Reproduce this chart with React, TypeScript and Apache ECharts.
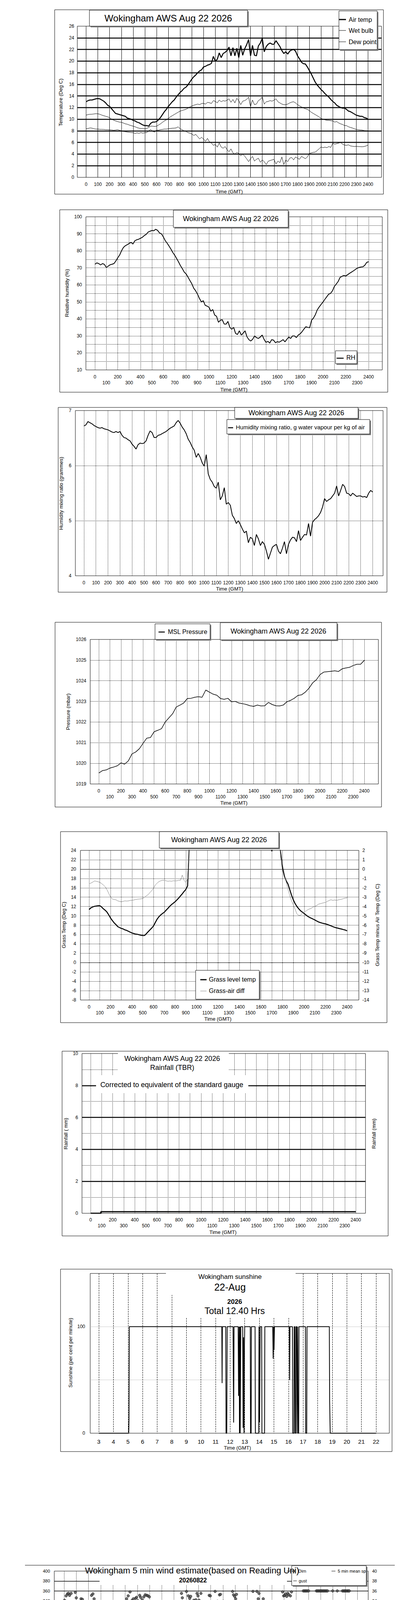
import React, { useEffect, useRef } from "react";
import * as echarts from "echarts";

const FONT = "'Liberation Sans', Arial, Helvetica, sans-serif";

// ---------- tick labels ----------
const X_TICKS = [0, 100, 200, 300, 400, 500, 600, 700, 800, 900, 1000, 1100, 1200, 1300, 1400, 1500, 1600, 1700, 1800, 1900, 2000, 2100, 2200, 2300, 2400];
const SUN_TICKS = [3, 4, 5, 6, 7, 8, 9, 10, 11, 12, 13, 14, 15, 16, 17, 18, 19, 20, 21, 22];

// sample times on the hhmm-style axis (hours * 100)
function sampleTimes(count: number, stepMin: number): number[] {
  const out: number[] = [];
  for (let i = 0; i < count; i++) out.push(Math.round(((i * stepMin) / 60) * 10000) / 100);
  return out;
}
const T10 = sampleTimes(145, 10);
const T20 = sampleTimes(73, 20);

// ---------- chart 1: temperatures (10-min) ----------
const AIR_TEMP = [
  13.0, 13.2, 13.3, 13.3, 13.4, 13.5,
  13.55, 13.5, 13.3, 13.1, 12.8, 12.4,
  12.2, 11.8, 11.4, 11.0, 10.9, 10.8,
  10.7, 10.6, 10.5, 10.2, 10.1, 10.0,
  9.8, 9.7, 9.5, 9.4, 9.2, 9.0,
  8.9, 8.9, 8.8, 9.3, 9.5, 9.5,
  9.6, 9.9, 10.3, 10.8, 11.3, 11.7,
  12.2, 12.6, 13.0, 13.3, 13.8, 14.2,
  14.6, 14.9, 15.3, 15.5, 15.9, 16.4,
  16.9, 17.3, 17.6, 18.0, 18.3, 18.5,
  19.0, 19.1, 19.3, 19.4, 19.6, 20.8,
  20.0, 20.3, 21.4, 20.6, 21.3, 21.5,
  21.8, 22.4, 20.9, 22.3, 20.9, 22.2,
  20.6, 22.7, 21.0, 22.1, 22.8, 23.7,
  20.9, 22.7, 21.0, 20.9, 22.6, 23.1,
  23.9, 21.6, 22.5, 22.9, 23.1, 22.9,
  22.9, 23.5, 23.0, 22.5, 21.8, 21.3,
  21.6, 21.2, 21.7, 21.9, 22.0, 21.7,
  20.9, 20.4, 19.8, 19.55, 19.5, 19.0,
  18.4, 17.8, 17.1, 16.4, 15.9, 15.5,
  15.1, 14.8, 14.4, 14.1, 13.8, 13.4,
  13.05, 12.8, 12.4, 12.2, 12.0, 11.9,
  11.9, 11.7, 11.4, 11.3, 11.1, 10.9,
  10.7, 10.6, 10.5, 10.5, 10.3, 10.2,
  10.0,
];
const WET_BULB = [
  10.7, 10.8, 10.85, 10.86, 10.9, 10.95,
  10.93, 10.85, 10.7, 10.6, 10.5, 10.4,
  10.26, 10.0, 9.85, 9.7, 9.6, 9.5,
  9.47, 9.35, 9.2, 9.14, 9.0, 8.9,
  8.8, 8.7, 8.55, 8.46, 8.4, 8.4,
  8.35, 8.4, 8.6, 8.8, 8.8, 8.75,
  8.8, 9.0, 9.2, 9.47, 9.7, 9.9,
  10.14, 10.4, 10.6, 10.8, 11.0, 11.2,
  11.38, 11.5, 11.6, 11.7, 11.9, 12.1,
  12.27, 12.4, 12.5, 12.6, 12.5, 12.7,
  12.72, 12.6, 12.9, 12.83, 12.7, 13.2,
  13.05, 12.8, 13.3, 13.0, 13.2, 13.1,
  13.28, 13.5, 12.9, 13.4, 12.8, 13.6,
  13.17, 12.5, 13.1, 13.2, 13.4, 13.8,
  12.16, 13.3, 12.5, 12.6, 13.2, 13.4,
  13.84, 12.6, 13.0, 13.05, 13.2, 13.1,
  13.28, 13.5, 13.0, 12.8, 12.6, 12.5,
  12.5, 12.6, 12.8, 12.94, 13.0, 12.8,
  12.5, 12.3, 12.1, 11.94, 11.8, 11.7,
  11.49, 11.2, 11.0, 10.8, 10.6, 10.4,
  10.14, 10.0, 9.9, 9.81, 9.8, 9.75,
  9.7, 9.5, 9.6, 9.36, 9.2, 9.1,
  8.91, 8.9, 8.7, 8.58, 8.5, 8.35,
  8.24, 8.2, 8.15, 8.13, 8.05, 8.02,
  8.0,
];
const DEW_POINT = [
  8.35, 8.4, 8.5, 8.46, 8.35, 8.3,
  8.3, 8.25, 8.25, 8.24, 8.2, 8.2,
  8.17, 8.15, 8.1, 8.13, 8.2, 8.1,
  8.02, 7.9, 7.85, 7.79, 7.75, 7.7,
  7.68, 7.55, 7.65, 7.57, 7.7, 7.6,
  7.68, 7.7, 8.0, 8.24, 7.9, 7.79,
  8.13, 8.1, 8.2, 8.24, 8.3, 8.3,
  8.35, 8.4, 8.45, 8.46, 8.5, 8.69,
  8.35, 8.2, 8.0, 7.9, 7.7, 7.6,
  7.46, 7.2, 7.4, 7.0, 6.6, 6.9,
  6.56, 6.2, 6.7, 6.11, 5.9, 5.5,
  5.67, 5.2, 5.9, 5.22, 5.0, 5.3,
  4.77, 4.4, 4.9, 4.21, 4.0, 4.3,
  4.1, 3.7, 4.0, 3.65, 3.2, 2.7,
  3.2, 3.6, 2.8, 3.09, 3.3, 2.6,
  2.98, 2.7, 2.19, 2.76, 2.9, 3.0,
  3.09, 2.3, 2.8, 2.53, 3.5, 2.2,
  2.98, 2.7, 3.3, 3.42, 3.0, 3.5,
  3.31, 3.1, 3.6, 3.42, 3.2, 3.5,
  4.1, 4.2, 4.3, 4.32, 4.6, 4.9,
  5.22, 5.1, 5.2, 5.1, 5.3, 5.15,
  5.89, 5.7, 5.8, 5.89, 6.0, 5.7,
  5.55, 5.5, 5.6, 5.4, 5.35, 5.3,
  5.33, 5.3, 5.28, 5.26, 5.3, 5.4,
  5.55,
];

// ---------- chart 2: relative humidity (10-min) ----------
const RH = [
  72.1, 72.9, 72.5, 71.7, 72.5, 72.0,
  70.2, 71.0, 71.8, 72.1, 72.5, 74.0,
  75.9, 77.5, 80.0, 82.0, 83.0, 83.6,
  84.3, 85.0, 84.0, 85.9, 86.5, 86.8,
  87.4, 88.0, 89.0, 89.7, 91.0, 91.5,
  92.0, 91.8, 92.7, 92.0, 90.5, 90.0,
  88.2, 86.0, 84.5, 82.8, 81.0, 79.0,
  77.4, 75.5, 73.5, 71.3, 69.5, 67.5,
  66.4, 64.5, 62.5, 60.6, 58.0, 56.5,
  54.5, 52.0, 50.0, 50.7, 48.0, 47.5,
  46.9, 44.5, 45.5, 42.3, 41.5, 38.0,
  39.2, 39.5, 37.0, 36.9, 38.5, 35.0,
  33.9, 35.0, 31.5, 30.8, 33.0, 30.5,
  31.6, 33.0, 29.5, 27.8, 27.0, 28.0,
  30.0, 29.0, 28.5, 29.3, 30.5, 28.0,
  26.2, 26.8, 25.8, 27.8, 27.5, 26.0,
  26.6, 26.3, 27.0, 27.8, 26.5, 28.0,
  29.3, 28.5, 30.0, 30.0, 29.0, 30.5,
  31.2, 32.5, 34.0, 35.4, 35.0, 34.8,
  39.2, 40.5, 42.5, 45.3, 47.0, 48.5,
  49.9, 51.5, 53.0, 54.5, 55.0, 56.5,
  59.1, 60.5, 62.0, 64.4, 65.0, 65.5,
  65.2, 66.0, 66.8, 67.5, 68.2, 69.0,
  69.8, 70.2, 70.5, 70.6, 71.5, 73.2,
  73.6,
];

// ---------- chart 3: humidity mixing ratio (10-min) ----------
const MIX_RATIO = [
  6.72, 6.74, 6.8, 6.78, 6.76, 6.73,
  6.71, 6.69, 6.68, 6.69, 6.67, 6.66,
  6.65, 6.63, 6.61, 6.6, 6.62, 6.6,
  6.62, 6.55, 6.51, 6.5, 6.47, 6.45,
  6.39, 6.35, 6.3, 6.38, 6.41, 6.4,
  6.41, 6.45, 6.55, 6.63, 6.6, 6.51,
  6.51, 6.55, 6.56, 6.58, 6.6, 6.62,
  6.65, 6.68, 6.7, 6.72, 6.78, 6.82,
  6.77, 6.7, 6.65, 6.58, 6.48, 6.42,
  6.34, 6.28, 6.15, 6.22, 6.15, 6.05,
  5.99, 6.2, 5.85, 5.75, 5.7, 5.62,
  5.59, 5.7, 5.38, 5.45, 5.6, 5.3,
  5.33, 5.28, 5.1, 5.04, 4.95, 5.0,
  4.93, 4.85, 4.78, 4.81, 4.6, 4.7,
  4.67, 4.55, 4.75, 4.67, 4.55, 4.62,
  4.57, 4.45, 4.3, 4.41, 4.52, 4.55,
  4.57, 4.45, 4.4, 4.5, 4.62, 4.4,
  4.57, 4.65, 4.7, 4.69, 4.62, 4.82,
  4.64, 4.7, 4.75, 4.74, 4.95, 4.72,
  4.97, 5.02, 5.05, 5.09, 5.15, 5.25,
  5.4, 5.35, 5.38, 5.4, 5.45, 5.5,
  5.63, 5.45, 5.55, 5.66, 5.62, 5.5,
  5.49, 5.45, 5.5, 5.47, 5.44, 5.45,
  5.45, 5.43, 5.44, 5.42, 5.5, 5.55,
  5.52,
];

// ---------- chart 4: MSL pressure (20-min) ----------
const PRESSURE = [
  1019.53, 1019.65, 1019.68,
  1019.77, 1019.82, 1019.88,
  1020.02, 1019.96, 1020.12,
  1020.46, 1020.55, 1020.71,
  1020.97, 1021.22, 1021.25,
  1021.53, 1021.6, 1021.68,
  1022.0, 1022.2, 1022.4,
  1022.73, 1022.82, 1022.92,
  1023.14, 1023.15, 1023.2,
  1023.23, 1023.2, 1023.55,
  1023.45, 1023.35, 1023.3,
  1023.14, 1023.1, 1023.15,
  1022.98, 1023.0, 1022.92,
  1022.89, 1022.85, 1022.79,
  1022.76, 1022.82, 1022.78,
  1022.79, 1022.95, 1022.85,
  1022.79, 1022.78, 1022.82,
  1022.98, 1023.05, 1023.15,
  1023.29, 1023.32, 1023.45,
  1023.64, 1023.9, 1024.05,
  1024.3, 1024.42, 1024.44,
  1024.46, 1024.48, 1024.45,
  1024.58, 1024.62, 1024.65,
  1024.74, 1024.8, 1024.8,
  1024.99,
];

// ---------- chart 5: grass temperature (10-min, null = off scale / not drawn) ----------
const N = null;
const GRASS_TEMP = [
  11.34, 11.7, 11.9, 12.04, 12.1, 12.15,
  12.17, 11.9, 11.5, 11.2, 10.8, 10.2,
  9.53, 9.0, 8.5, 8.14, 7.7, 7.5,
  7.31, 7.2, 7.0, 6.89, 6.7, 6.5,
  6.33, 6.2, 6.1, 6.05, 5.95, 5.85,
  5.78, 5.8, 6.2, 6.61, 7.0, 7.4,
  7.86, 8.6, 9.3, 9.81, 10.2, 10.5,
  10.78, 11.2, 11.6, 12.04, 12.4, 12.7,
  13.01, 13.4, 13.8, 14.26, 14.7, 15.2,
  15.65, 16.4, 26, N, N, N,
  N, N, N, N, N, N,
  N, N, N, N, N, N,
  N, N, N, N, N, N,
  N, N, N, N, N, N,
  N, N, N, N, N, N,
  N, N, N, N, N, N,
  N, N, N, N, N, 26,
  23.8, 26, N, N, 26, 23.2,
  20.1, 18.5, 17.5, 16.8, 15.6, 14.4,
  13.4, 12.6, 12.0, 11.5, 11.1, 10.8,
  10.5, 10.2, 9.9, 9.67, 9.5, 9.3,
  9.11, 8.9, 8.7, 8.56, 8.45, 8.35,
  8.28, 8.15, 8.0, 7.86, 7.7, 7.55,
  7.44, 7.35, 7.25, 7.17, 7.05, 6.95,
  6.8,
];
const GRASS_AIR_DIFF = [
  -1.62, -1.5, -1.4, -1.27, -1.3, -1.35,
  -1.41, -1.55, -1.7, -1.89, -2.2, -2.6,
  -3.0, -3.2, -3.25, -3.28, -3.4, -3.45,
  -3.49, -3.45, -3.4, -3.42, -3.4, -3.35,
  -3.35, -3.3, -3.25, -3.22, -3.2, -3.18,
  -3.15, -3.0, -2.85, -2.73, -2.5, -2.3,
  -2.03, -1.7, -1.5, -1.34, -1.25, -1.2,
  -1.2, -1.25, -1.3, -1.27, -1.3, -1.25,
  -1.27, -1.25, -1.2, -1.2, -0.64, -1.2,
  -1.41, -1.06, 3.0, N, N, N,
  N, N, N, N, N, N,
  N, N, N, N, N, N,
  N, N, N, N, N, N,
  N, N, N, N, N, N,
  N, N, N, N, N, N,
  N, N, N, N, N, N,
  N, N, N, N, N, N,
  N, N, N, N, 3.5, 1.1,
  0.47, -0.5, -1.4, -2.17, -2.8, -3.4,
  -3.84, -4.3, -4.8, -4.95, -4.95, -4.7,
  -4.54, -4.5, -4.35, -4.26, -4.2, -4.05,
  -3.98, -3.9, -3.75, -3.7, -3.65, -3.6,
  -3.56, -3.45, -3.35, -3.28, -3.35, -3.3,
  -3.35, -3.3, -3.25, -3.22, -3.15, -3.1,
  -3.08,
];

// ---------- chart 6: rainfall ----------
const RAIN_TIME = [0, 93, 93, 2400];
const RAIN_MM = [0, 0, 0.1, 0.1];

// ---------- chart 7: sunshine (hours, per cent per minute) ----------
const SUN_HOUR = [3, 5.05, 5.07, 5.09, 11.43, 11.45, 11.47, 11.7, 11.72, 11.77, 11.8, 12.2, 12.24, 12.27, 12.55, 12.58, 12.62, 12.64, 12.67, 12.69, 12.73, 12.86, 12.89, 12.92, 12.95, 12.98, 13.0, 13.38, 13.4, 13.44, 13.46, 13.71, 13.73, 13.96, 13.98, 14.02, 14.06, 14.16, 14.18, 14.36, 14.38, 14.92, 14.95, 14.98, 15.01, 15.04, 16.06, 16.08, 16.1, 16.27, 16.29, 16.37, 16.39, 16.43, 16.45, 16.49, 16.51, 16.56, 16.58, 16.63, 16.66, 16.7, 16.72, 17.16, 17.18, 17.25, 17.27, 18.8, 18.82, 18.86, 22];
const SUN_PCT = [0, 0, 13, 100, 100, 47, 100, 100, 0, 0, 100, 100, 10, 100, 100, 35, 100, 0, 100, 0, 100, 100, 5, 90, 0, 80, 100, 100, 0, 0, 100, 100, 0, 0, 100, 10, 100, 100, 0, 0, 100, 100, 70, 100, 78, 100, 100, 50, 100, 100, 0, 0, 100, 100, 0, 0, 100, 100, 0, 100, 0, 0, 100, 100, 0, 0, 100, 100, 30, 0, 0];

// ---------- chart 8: wind ----------
const GUST_TIME = [0, 10, 20, 30, 40, 50, 60, 71, 81, 91, 101, 111, 121, 131, 141, 151, 171, 192, 212, 232, 252, 272, 282, 302, 313, 333, 353, 373, 393, 403, 413, 433, 454, 474, 484, 494, 514, 534, 554, 575, 595, 615, 635, 655, 665, 685, 696, 706, 716, 736, 746, 756, 766, 776, 796, 806, 817, 827, 837, 857, 867, 877, 887, 897, 907, 927, 936, 958, 978, 988, 998, 1018, 1028, 1038, 1058, 1069, 1079, 1099, 1109, 1119, 1129, 1140, 1150, 1160, 1170, 1179, 1200, 1210, 1220, 1240, 1260, 1280, 1300, 1310, 1331, 1341, 1361, 1381, 1391, 1411, 1421, 1431, 1442, 1449, 1458, 1472, 1482, 1502, 1522, 1542, 1562, 1583, 1603, 1623, 1643, 1663, 1683, 1704, 1724, 1744, 1764, 1774, 1784, 1794, 1804, 1815, 1825, 1845, 1865, 1885, 1905, 1925, 1935, 1956, 1966, 1986, 2006, 2026, 2046, 2067, 2087, 2147, 2167, 2188, 2198, 2208, 2228, 2248, 2258, 2268, 2288, 2329, 2349, 2369, 2389, 2399];
const GUST_KT = [6.9, 6.8, 6.9, 6.4, 4.9, 5.5, 9.2, 7.0, 5.5, 4.7, 4.9, 3.4, 3.6, 4.3, 2.3, 2.8, 2.1, 2.7, 2.1, 1.0, 4.0, 2.8, 1.0, 2.7, 1.8, 2.1, 1.8, 1.5, 0.7, 2.6, 3.0, 3.4, 2.8, 4.7, 3.9, 4.2, 3.1, 3.4, 2.6, 3.5, 4.8, 6.0, 8.9, 9.6, 8.1, 8.5, 8.8, 10.2, 11.9, 10.7, 8.1, 12.2, 7.8, 10.5, 9.7, 11.8, 11.0, 9.9, 11.9, 10.7, 9.7, 11.5, 10.2, 12.3, 10.5, 13.4, 14.1, 10.2, 8.4, 11.5, 9.9, 7.8, 12.3, 10.7, 11.3, 9.4, 11.8, 10.2, 9.4, 13.4, 14.4, 11.0, 13.4, 15.8, 9.4, 9.4, 8.6, 11.0, 9.4, 8.4, 13.4, 11.3, 9.4, 7.8, 11.3, 8.1, 9.9, 8.1, 9.7, 10.2, 7.8, 11.3, 11.8, 18.0, 11.8, 8.1, 9.9, 9.4, 6.8, 13.6, 10.2, 6.8, 10.7, 6.0, 8.1, 11.8, 9.2, 6.8, 6.8, 10.2, 11.8, 9.9, 11.8, 9.9, 7.6, 6.5, 7.7, 6.4, 7.4, 6.3, 6.4, 5.2, 3.4, 0.2, 0.7, 0.2, 1.0, 1.1, 0.7, 0.2, 0, 0, 1.1, 0.9, 0.3, 0.5, 0, 1.1, 0.7, 0.2, 0, 0, 2.3, 1.5, 1.1, 1.0];
const MEAN_TIME = [0, 20, 40, 60, 71, 91, 101, 111, 131, 151, 171, 192, 212, 232, 252, 272, 292, 313, 333, 353, 373, 393, 413, 433, 454, 474, 494, 514, 534, 554, 575, 595, 615, 635, 655, 675, 696, 716, 726, 736, 756, 776, 796, 817, 837, 857, 877, 897, 907, 917, 938, 958, 978, 998, 1018, 1038, 1058, 1079, 1099, 1119, 1139, 1149, 1159, 1179, 1200, 1220, 1240, 1260, 1280, 1300, 1321, 1341, 1361, 1381, 1401, 1421, 1442, 1452, 1462, 1482, 1502, 1522, 1542, 1562, 1583, 1603, 1623, 1643, 1663, 1683, 1704, 1724, 1744, 1764, 1784, 1804, 1825, 1845, 1865, 1885, 1905, 1925, 1946, 1956, 1986, 2006, 2026, 2046, 2067, 2147, 2167, 2188, 2208, 2248, 2268, 2329, 2349, 2369, 2389, 2399];
const MEAN_KT = [3.4, 3.6, 4.0, 4.0, 4.7, 3.4, 2.4, 2.2, 2.1, 1.4, 1.8, 1.5, 1.7, 0.7, 2.1, 1.8, 0.5, 1.0, 0.9, 1.0, 1.1, 0.2, 1.3, 1.4, 1.3, 1.8, 1.9, 1.8, 1.7, 1.3, 2.1, 2.4, 2.6, 3.6, 4.2, 4.7, 4.9, 7.1, 6.3, 5.2, 5.5, 6.5, 5.7, 6.8, 5.7, 7.3, 6.8, 7.8, 7.1, 6.3, 7.8, 7.6, 6.3, 7.1, 5.7, 7.1, 6.0, 6.3, 5.7, 6.3, 9.4, 8.6, 7.8, 7.6, 5.7, 6.5, 5.2, 6.5, 5.7, 6.3, 4.9, 6.0, 4.4, 6.0, 4.7, 5.5, 7.1, 7.8, 5.7, 5.5, 4.4, 6.5, 7.8, 6.5, 5.2, 3.9, 3.4, 5.5, 7.3, 5.2, 3.4, 4.2, 4.4, 5.2, 6.5, 5.7, 4.2, 3.9, 4.0, 3.9, 4.3, 3.4, 1.0, 0, 0, 0.5, 0.7, 0.5, 0, 0, 0.5, 0, 0, 0.5, 0, 0, 2.1, 1.0, 0.5, 0.6];
const DIR_TIME = [
  4, 17, 28, 36, 45, 58, 92, 100, 111, 116, 128, 139, 150, 156, 171, 182, 193, 208, 218, 225, 236, 246, 259, 272, 285, 296, 304, 310, 321, 328, 334, 343, 351, 364, 375, 385, 396, 405, 418, 428, 441, 452, 465, 475, 488, 503, 512, 525, 540, 557, 567, 585, 593, 604, 619, 627, 640, 653, 664, 677, 687, 698,
  961, 968, 1002, 1017, 1028, 1036, 1062, 1068, 1079, 1088, 1096, 1105, 1111, 1120, 1188, 1197, 1236, 1244, 1255, 1272, 1280, 1302, 1310, 1319, 1379, 1387, 1396, 1404, 1411, 1420, 1428, 1437, 1445, 1495, 1503, 1512, 1520, 1529, 1535, 1546, 1578, 1589, 1595, 1630, 1638, 1737, 1745, 1752, 1762, 1788, 1797, 1805, 1814, 1822, 1831, 1839, 1852, 1861,
  1958, 1967, 1975, 1983, 1992, 2001, 2065, 2073, 2081, 2090, 2098, 2106, 2115, 2123, 2131, 2140, 2148, 2156, 2198, 2236, 2278, 2287, 2295, 2303, 2312, 2320, 2328, 2334,
  67, 75, 83, 710, 716, 726, 736, 742, 750, 758, 766, 776, 782, 790, 800, 808, 819, 829, 837, 847, 857, 865, 873, 883, 891, 901, 909, 917, 927, 938, 950, 972, 980, 992, 1042, 1050, 1123, 1133, 1141, 1151, 1159, 1169, 1177, 1202, 1210, 1218, 1228, 1258, 1284, 1292, 1325, 1341, 1349, 1353, 1365, 1371, 1450, 1456, 1470, 1476, 1486, 1550, 1556, 1566, 1599, 1609, 1619, 1643, 1659, 1663, 1669, 1679, 1685, 1691, 1702, 1710, 1720, 1724, 1766, 1776, 1867, 1879, 1885, 1893, 1901, 1909, 1919, 1925, 1933, 1943, 1952, 2006, 2016, 2026, 2036, 2050, 2163, 2173, 2183, 2216, 2254, 2268, 2339, 2347, 2349, 2355, 2369, 2379, 2389, 2399,
];
const DIR_DEG = [
  341, 350, 354, 355, 351, 355, 357, 346, 333, 327, 333, 344, 343, 334, 323, 327, 328, 325, 337, 351, 354, 344, 330, 320, 321, 322, 307, 306, 322, 329, 325, 319, 304, 302, 302, 303, 312, 324, 324, 325, 329, 319, 314, 321, 328, 337, 344, 350, 358, 341, 344, 345, 347, 340, 351, 347, 342, 348, 352, 351, 350, 348,
  355, 346, 359, 350, 345, 349, 341, 324, 342, 355, 350, 341, 336, 355, 351, 350, 359, 315, 339, 352, 353, 339, 254, 300, 359, 352, 349, 344, 353, 332, 314, 282, 296, 286, 290, 338, 308, 304, 336, 359, 359, 344, 355, 344, 317, 336, 316, 312, 328, 358, 350, 351, 354, 349, 355, 352, 350, 358,
  360, 360, 360, 360, 360, 360, 360, 360, 360, 360, 360, 360, 360, 360, 360, 360, 360, 360, 360, 360, 360, 360, 360, 360, 360, 360, 360, 360,
  4, 10, 1, 5, 14, 10, 11, 5, 9, 13, 10, 5, 11, 10, 24, 31, 30, 19, 22, 28, 18, 26, 45, 39, 25, 5, 5, 36, 49, 48, 34, 14, 25, 1, 15, 14, 36, 47, 41, 51, 63, 55, 37, 12, 34, 27, 5, 22, 14, 10, 9, 63, 40, 37, 20, 3, 23, 23, 13, 14, 11, 5, 6, 8, 52, 79, 52, 20, 40, 47, 41, 17, 7, 15, 28, 34, 35, 11, 1, 15, 8, 19, 34, 40, 44, 55, 57, 57, 62, 64, 67, 66, 66, 66, 66, 67, 67, 67, 67, 67, 67, 67, 67, 85, 96, 90, 85, 85, 85, 85,
];

// ---------- helpers ----------
const pairs = (ts: number[], vs: (number | null)[]) =>
  ts.map((t, i) => [t, vs[i] == null ? "-" : vs[i]]);

const GRIDS = [
  { left: 198, top: 67, width: 779, height: 387 },
  { left: 220, top: 555, width: 759, height: 392 },
  { left: 193, top: 1051, width: 788, height: 423 },
  { left: 231, top: 1637, width: 738, height: 370 },
  { left: 206, top: 2177, width: 713, height: 383 },
  { left: 210, top: 2697, width: 726, height: 409 },
  { left: 231, top: 3260, width: 766, height: 409 },
  { left: 139, top: 4022, width: 804, height: 507 },
];

function timeAxis(gridIndex: number, min: number, max: number, o: any) {
  return {
    type: "value",
    gridIndex,
    min,
    max,
    axisLine: { show: false },
    axisTick: { show: false, customValues: o.ticks || X_TICKS },
    axisLabel: {
      customValues: o.ticks || X_TICKS,
      color: "#000",
      fontFamily: FONT,
      fontSize: o.fontSize || 12,
      lineHeight: o.lineHeight || 15,
      margin: o.margin,
      formatter: o.twoRows
        ? (v: number) => (Math.round(v / 100) % 2 === 0 ? String(v) : "\n" + v)
        : (v: number) => String(v),
    },
    splitLine: {
      show: true,
      showMinLine: true,
      showMaxLine: true,
      lineStyle: { color: "#000", width: 1, type: o.lineType || "dotted" },
    },
  };
}

function valAxis(gridIndex: number, min: number, max: number, interval: number, o: any) {
  return {
    type: "value",
    gridIndex,
    min,
    max,
    interval,
    position: o.position || "left",
    axisLine: { show: false },
    axisTick: { show: false },
    axisLabel: {
      color: "#000",
      fontFamily: FONT,
      fontSize: o.fontSize || 12,
      margin: o.margin,
      formatter: o.formatter || ((v: number) => String(v)),
    },
    splitLine: o.split
      ? {
          show: true,
          showMinLine: false,
          showMaxLine: false,
          lineStyle: o.split,
        }
      : { show: false },
  };
}

// graphic helpers
const frame = (x1: number, y1: number, x2: number, y2: number) => ({
  type: "rect",
  z: 1,
  shape: { x: x1, y: y1, width: x2 - x1, height: y2 - y1 },
  style: { fill: "none", stroke: "#000", lineWidth: 1 },
});
const shadowBox = (x1: number, y1: number, x2: number, y2: number) => [
  { type: "rect", z: 40, shape: { x: x1 + 3, y: y1 + 3, width: x2 - x1, height: y2 - y1 }, style: { fill: "#808080" } },
  { type: "rect", z: 41, shape: { x: x1, y: y1, width: x2 - x1, height: y2 - y1 }, style: { fill: "#fff", stroke: "#000", lineWidth: 1 } },
];
const whiteBox = (x1: number, y1: number, x2: number, y2: number) => ({
  type: "rect",
  z: 40,
  shape: { x: x1, y: y1, width: x2 - x1, height: y2 - y1 },
  style: { fill: "#fff" },
});
const txt = (x: number, y: number, s: string, size: number, extra: any = {}) => ({
  type: "text",
  z: 45,
  x,
  y,
  rotation: extra.rotation || 0,
  style: {
    text: s,
    fontSize: size,
    fontFamily: FONT,
    fontWeight: extra.bold ? "bold" : "normal",
    fill: extra.fill || "#000",
    align: extra.align || "center",
    textAlign: extra.align || "center",
    verticalAlign: "middle",
    textVerticalAlign: "middle",
  },
});
const vtxt = (x: number, y: number, s: string, size: number) => txt(x, y, s, size, { rotation: Math.PI / 2 });
const seg = (x1: number, y1: number, x2: number, y2: number, w: number, color = "#000", z = 45) => ({
  type: "line",
  z,
  shape: { x1, y1, x2, y2 },
  style: { stroke: color, lineWidth: w },
});

function buildOption() {
  const lineSeries = (name: string, xi: number, yi: number, data: any[], width: number, color = "#000", extra: any = {}) => ({
    name,
    type: "line",
    xAxisIndex: xi,
    yAxisIndex: yi,
    data,
    showSymbol: false,
    symbol: "none",
    clip: true,
    lineStyle: { color, width },
    itemStyle: { color },
    z: 3,
    ...extra,
  });

  const graphics: any[] = [
    // outer frames
    frame(140, 25, 982, 497),
    frame(153, 537, 993, 1004),
    frame(149, 1043, 991, 1516),
    frame(141, 1593, 977, 2066),
    frame(155, 2129, 991, 2618),
    frame(159, 2691, 994, 3164),
    frame(155, 3249, 1004, 3716),
    seg(64, 4007, 1011, 4007, 1, "#000", 1),
    seg(64, 4592, 1011, 4592, 1, "#000", 1),

    // ---- chart 1 ----
    ...shadowBox(229, 26, 634, 67),
    txt(431, 46, "Wokingham AWS Aug 22 2026", 24),
    ...shadowBox(868, 28, 966, 127),
    seg(868, 50, 886, 50, 3),
    txt(893, 50, "Air temp", 16, { align: "left" }),
    seg(868, 78, 886, 78, 1),
    txt(893, 78, "Wet bulb", 16, { align: "left" }),
    seg(868, 107, 886, 107, 1),
    txt(893, 107, "Dew point", 16, { align: "left" }),
    vtxt(155, 262, "Temperature (Deg C)", 13),
    txt(587, 490, "Time (GMT)", 13),

    // ---- chart 2 ----
    ...shadowBox(444, 538, 738, 582),
    txt(591, 560, "Wokingham AWS Aug 22 2026", 18),
    ...shadowBox(859, 898, 914, 931),
    seg(862, 917, 880, 917, 2.5),
    txt(887, 915, "RH", 16, { align: "left" }),
    vtxt(171, 750, "Relative humidity (%)", 13),
    txt(599, 997, "Time (GMT)", 13),

    // ---- chart 3 ----
    ...shadowBox(601, 1043, 917, 1071),
    txt(759, 1057, "Wokingham AWS Aug 22 2026", 18),
    ...shadowBox(581, 1074, 947, 1111),
    seg(584, 1095, 597, 1095, 2.5),
    txt(604, 1093, "Humidity mixing ratio, g water vapour per kg of air", 15, { align: "left" }),
    vtxt(156, 1263, "Humidity mixing ratio (grammes)", 13),
    txt(588, 1507, "Time (GMT)", 13),

    // ---- chart 4 ----
    ...shadowBox(397, 1597, 538, 1637),
    seg(406, 1618, 422, 1618, 2.5),
    txt(430, 1617, "MSL Pressure", 16, { align: "left" }),
    ...shadowBox(564, 1594, 863, 1638),
    txt(713, 1616, "Wokingham AWS Aug 22 2026", 18),
    vtxt(174, 1822, "Pressure (mbar)", 13),
    txt(599, 2055, "Time (GMT)", 13),

    // ---- chart 5 ----
    ...shadowBox(408, 2129, 714, 2171),
    txt(561, 2150, "Wokingham AWS Aug 22 2026", 18),
    ...shadowBox(501, 2484, 664, 2558),
    seg(513, 2508, 529, 2508, 3),
    txt(535, 2507, "Grass level temp", 16, { align: "left" }),
    seg(513, 2537, 529, 2537, 1, "#808080"),
    txt(535, 2536, "Grass-air diff", 16, { align: "left" }),
    vtxt(163, 2368, "Grass Temp (Deg C)", 13),
    vtxt(966, 2368, "Grass Temp minus Air Temp (Deg C)", 13),
    txt(558, 2608, "Time (GMT)", 13),

    // ---- chart 6 ----
    whiteBox(302, 2694, 586, 2752),
    whiteBox(246, 2753, 636, 2799),
    txt(441, 2710, "Wokingham AWS Aug 22 2026", 18),
    txt(441, 2733, "Rainfall (TBR)", 18),
    txt(440, 2777, "Corrected to equivalent of the standard gauge", 18),
    vtxt(168, 2902, "Rainfall ( mm)", 13),
    vtxt(957, 2902, "Rainfall (mm)", 13),
    txt(571, 3154, "Time (GMT)", 13),

    // ---- chart 7 ----
    whiteBox(425, 3257, 757, 3315),
    whiteBox(444, 3315, 743, 3373),
    txt(589, 3268, "Wokingham sunshine", 17),
    txt(589, 3295, "22-Aug", 25),
    txt(601, 3332, "2026", 17, { bold: true }),
    txt(601, 3356, "Total 12.40 Hrs", 23),
    vtxt(180, 3463, "Sunshine (per cent per minute)", 13),
    txt(608, 3706, "Time (GMT)", 13),

    // ---- chart 8 ----
    whiteBox(255, 4009, 735, 4057),
    txt(492, 4020, "Wokingham 5 min wind estimate(based on Reading Uni)", 22),
    txt(494, 4045, "20260822", 16, { bold: true }),
    ...shadowBox(747, 4008, 938, 4059),
    { type: "circle", z: 45, shape: { cx: 752, cy: 4022, r: 3 }, style: { fill: "#4a4a4a", stroke: "#000", lineWidth: 0.8 } },
    txt(764, 4022, "Dirn", 11, { align: "left" }),
    seg(849, 4022, 859, 4022, 2, "#808080"),
    txt(865, 4022, "5 min mean sp", 11, { align: "left" }),
    seg(751, 4047, 760, 4047, 1),
    txt(765, 4047, "gust", 11, { align: "left" }),
    vtxt(87, 4277, "Degrees", 16),
    vtxt(988, 4275, "knots", 16),
    txt(540, 4567, "Time, hours GMT", 16),
  ];

  const evenOnly = (v: number) => (v % 2 === 0 ? String(v) : "");

  return {
    animation: false,
    backgroundColor: "#fff",
    textStyle: { fontFamily: FONT },
    grid: GRIDS.map((g) => ({ ...g, show: true, borderColor: "#000", borderWidth: 1, backgroundColor: "transparent", containLabel: false })),
    xAxis: [
      timeAxis(0, -75, 2515, { margin: 10.5, lineType: "solid" }),
      timeAxis(1, -79, 2520, { margin: 10.5, twoRows: true }),
      timeAxis(2, -71, 2486, { margin: 10.5 }),
      timeAxis(3, -78, 2527, { margin: 10.5, twoRows: true }),
      timeAxis(4, -80, 2509, { margin: 10.5, twoRows: true }),
      timeAxis(5, -78, 2488, { margin: 9.5, twoRows: true }),
      timeAxis(6, 2.41, 22.91, { margin: 12, ticks: SUN_TICKS, fontSize: 15, lineHeight: 18, lineType: "dashed" }),
      timeAxis(7, -80, 2489, { margin: 8.5, fontSize: 11 }),
    ],
    yAxis: [
      valAxis(0, 0, 26, 2, { margin: 8, split: { color: "#000", width: 2.5, type: "solid" } }),
      valAxis(1, 10, 100, 5, { margin: 10, formatter: (v: number) => (v % 10 === 0 ? String(v) : ""), split: { color: "#000", width: 1, type: "dotted" } }),
      valAxis(2, 4, 7, 1, { margin: 10, split: { color: "#000", width: 1, type: "dotted" } }),
      valAxis(3, 1019, 1026, 1, { margin: 10, split: { color: "#000", width: 1, type: "dotted" } }),
      valAxis(4, -8, 24, 2, { margin: 11, split: { color: "#000", width: 1, type: "dotted" } }),
      valAxis(4, -14, 2, 1, { margin: 9, position: "right" }),
      valAxis(5, 0, 10, 1, { margin: 10, formatter: evenOnly, split: { color: "#000", width: 1, type: "dotted" } }),
      valAxis(6, 0, 150, 50, { margin: 13, formatter: (v: number) => (v === 0 || v === 100 ? String(v) : ""), split: { color: "#999", width: 1, type: "dotted" } }),
      valAxis(7, 0, 400, 20, { margin: 11, fontSize: 11, split: { color: "#000", width: 1.5, type: "solid" } }),
      valAxis(7, 0, 40, 2, { margin: 10, fontSize: 11, position: "right" }),
    ],
    series: [
      lineSeries("Air temp", 0, 0, pairs(T10, AIR_TEMP), 2.5),
      lineSeries("Wet bulb", 0, 0, pairs(T10, WET_BULB), 1),
      lineSeries("Dew point", 0, 0, pairs(T10, DEW_POINT), 1),
      lineSeries("RH", 1, 1, pairs(T10, RH), 2),
      lineSeries("Humidity mixing ratio, g water vapour per kg of air", 2, 2, pairs(T10, MIX_RATIO), 2),
      lineSeries("MSL Pressure", 3, 3, pairs(T20, PRESSURE), 1.5),
      lineSeries("Grass level temp", 4, 4, pairs(T10, GRASS_TEMP), 2.5, "#000", {
        markLine: {
          silent: true,
          symbol: ["none", "none"],
          label: { show: false },
          lineStyle: { color: "#000", type: "solid", width: 1.2 },
          data: [{ yAxis: 0 }, { yAxis: 20 }],
        },
      }),
      lineSeries("Grass-air diff", 4, 5, pairs(T10, GRASS_AIR_DIFF), 1, "#808080"),
      lineSeries("Rainfall (TBR)", 5, 6, pairs(RAIN_TIME, RAIN_MM), 3, "#000", {
        markLine: {
          silent: true,
          symbol: ["none", "none"],
          label: { show: false },
          lineStyle: { color: "#000", type: "solid", width: 2.5 },
          data: [{ yAxis: 2 }, { yAxis: 4 }, { yAxis: 6 }, { yAxis: 8 }],
        },
      }),
      lineSeries("Sunshine", 6, 7, pairs(SUN_HOUR, SUN_PCT), 2),
      lineSeries("gust", 7, 9, pairs(GUST_TIME, GUST_KT), 1),
      lineSeries("5 min mean sp", 7, 9, pairs(MEAN_TIME, MEAN_KT), 2, "#808080"),
      {
        name: "Dirn",
        type: "scatter",
        xAxisIndex: 7,
        yAxisIndex: 8,
        data: pairs(DIR_TIME, DIR_DEG),
        symbol: "circle",
        symbolSize: 7,
        itemStyle: { color: "#4a4a4a", borderColor: "#000", borderWidth: 0.8 },
        z: 4,
      },
    ],
    graphic: { elements: graphics },
  };
}

export default function App() {
  const ref = useRef<HTMLDivElement>(null);
  useEffect(() => {
    if (!ref.current) return;
    const chart = echarts.init(ref.current, null, { renderer: "svg" });
    chart.setOption(buildOption() as any);
    return () => chart.dispose();
  }, []);
  return (
    <div
      ref={ref}
      style={{ position: "absolute", left: 0, top: 0, width: 1050, height: 5085, background: "#fff" }}
    />
  );
}
